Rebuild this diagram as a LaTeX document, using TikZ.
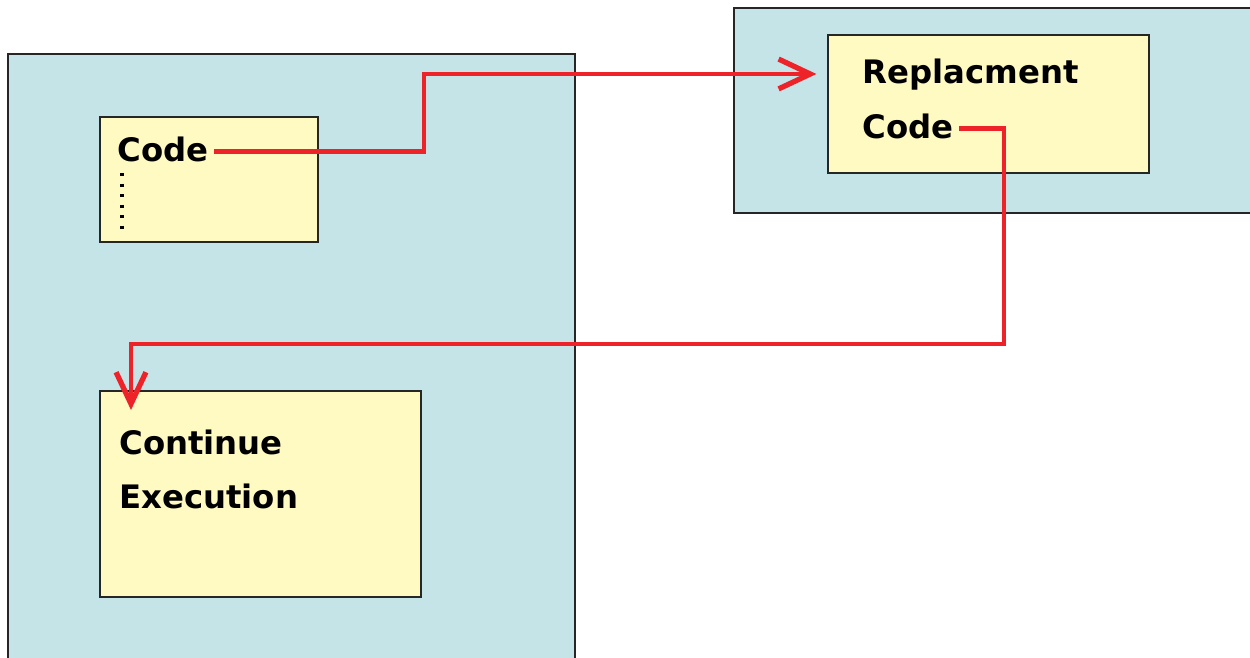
\documentclass[tikz,border=0pt]{standalone}
\usepackage{fontspec}
\setmainfont{DejaVu Sans}
\usetikzlibrary{arrows.meta,fit}

\definecolor{panelblue}{HTML}{C5E4E8}
\definecolor{codeyellow}{HTML}{FFF9C2}
\definecolor{jumpred}{HTML}{EE2229}

\tikzset{
	panel/.style={draw=black!85, line width=1.2pt, fill=panelblue, inner sep=0pt},
	codebox/.style={draw=black!85, line width=1.2pt, fill=codeyellow, inner sep=0pt},
	codetext/.style={inner sep=0pt, anchor=base west, font=\fontsize{18.4}{22}\selectfont\bfseries},
	jump/.style={draw=jumpred, line width=2.7pt, line join=miter,
		-{Straight Barb[length=18pt,width=17pt,line width=3pt]}}
}

\begin{document}
\begin{tikzpicture}[x=0.02cm,y=-0.02cm]
	\useasboundingbox (0,0) rectangle (1250,658);
	\clip (0,0) rectangle (1250,658);

	% the two panels
	\node[panel, fit={(8,54) (575,680)}] (host) {};
	\node[panel, fit={(734,8) (1260,213)}] (hook) {};

	% code blocks
	\node[codebox, fit={(100,117) (318,242)}] (orig) {};
	\node[codebox, fit={(828,35) (1149,173)}] (patch) {};
	\node[codebox, fit={(100,391) (421,597)}] (cont) {};

	\node[codetext] (call) at (117,162) {Code};
	\draw[line width=1.8pt, dash pattern=on 1.8pt off 4.2pt] (122,173) -- (122,230);

	\node[codetext] (repl) at (862,84) {Replacment};
	\node[codetext] (ret) at (862,139) {Code};

	\node[codetext] (goon) at (119,454) {Continue};
	\node[codetext] (exec) at (119,508) {Execution};

	% jump out and back
	\coordinate (bendout) at (424,74);
	\coordinate (bendback) at (1004,344);
	\coordinate (land) at (131,410);
	\draw[jump] ([xshift=3pt,yshift=-1pt]call.east) -| (bendout) -- ([xshift=-6pt]patch.west |- bendout);
	\draw[jump] ([xshift=3pt,yshift=-1pt]ret.east) -| (bendback) -| (land);
\end{tikzpicture}
\end{document}
